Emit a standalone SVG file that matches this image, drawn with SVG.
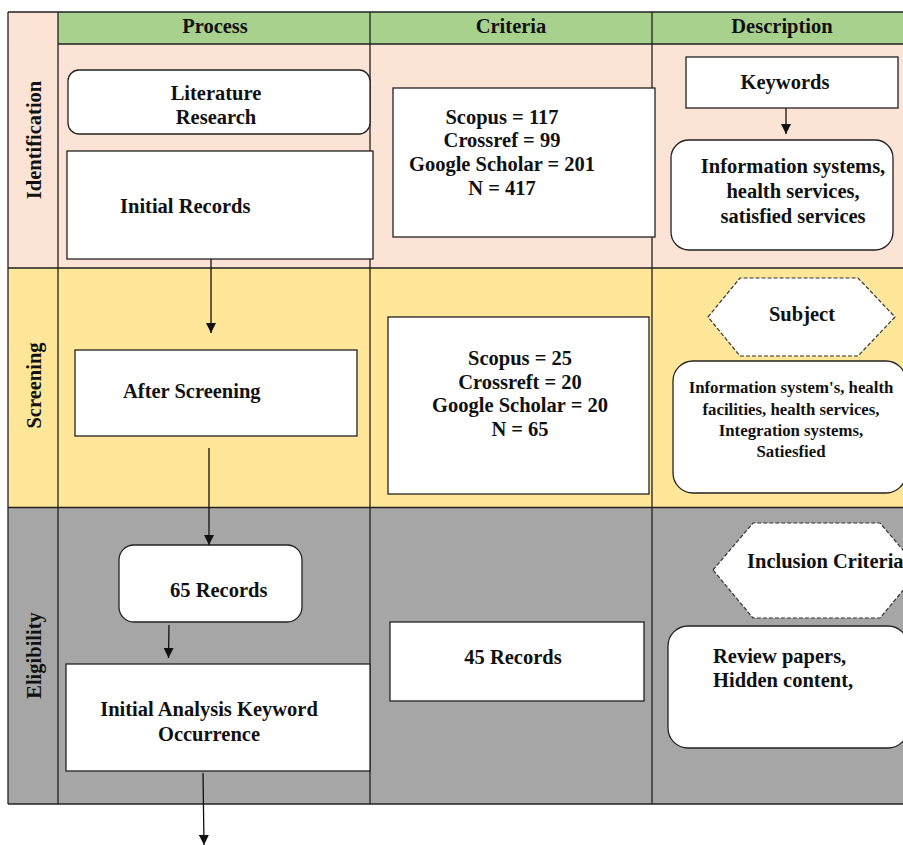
<svg xmlns="http://www.w3.org/2000/svg" width="903" height="845" viewBox="0 0 903 845">
  <style>
    .t { font-family: "Liberation Serif", "Times New Roman", serif; font-weight: bold; font-size: 20.5px; fill: #111; }
    .s { font-size: 16.8px; }
    .c { text-anchor: middle; }
    .grid { stroke: #222; stroke-width: 1.3; fill: none; }
    .box { fill: #fff; stroke: #222; stroke-width: 1.3; }
    .dash { fill: #fff; stroke: #333; stroke-width: 1.2; stroke-dasharray: 4 2; }
    .conn { stroke: #111; stroke-width: 1.3; fill: none; marker-end: url(#arr); }
  </style>
  <defs>
    <marker id="arr" viewBox="0 0 10 10" refX="10" refY="5" markerWidth="10" markerHeight="10" markerUnits="userSpaceOnUse" orient="auto">
      <path d="M0,0 L10,5 L0,10 Z" fill="#111"/>
    </marker>
  </defs>

  <!-- lane backgrounds -->
  <g id="lanes">
    <rect x="8" y="12" width="895" height="256" fill="#FBE3D6"/>
    <rect x="58" y="12" width="845" height="32" fill="#A9D18E"/>
    <rect x="8" y="268" width="895" height="239.5" fill="#FFE699"/>
    <rect x="8" y="507.5" width="895" height="296.5" fill="#A6A6A6"/>
    <path class="grid" d="M8,12 H903 M58,44 H903 M8,268 H903 M8,507.5 H903 M8,804 H903 M8,12 V804 M58,12 V804 M370,12 V804 M652,12 V804"/>
    <text class="t c" x="215" y="33">Process</text>
    <text class="t c" x="511" y="33">Criteria</text>
    <text class="t c" x="782" y="33">Description</text>
    <text class="t c" transform="translate(41,140) rotate(-90)">Identification</text>
    <text class="t c" transform="translate(41,385.5) rotate(-90)">Screening</text>
    <text class="t c" transform="translate(41,655.5) rotate(-90)">Eligibility</text>
  </g>

  <!-- Process column -->
  <g id="literature-research">
    <rect class="box" x="68" y="70" width="302" height="64" rx="11"/>
    <text class="t c" x="216" y="100">Literature</text>
    <text class="t c" x="216" y="124">Research</text>
  </g>
  <g id="initial-records">
    <rect class="box" x="67" y="151" width="306" height="108"/>
    <text class="t" x="120" y="213">Initial Records</text>
  </g>
  <g id="after-screening">
    <rect class="box" x="75" y="350" width="282" height="86"/>
    <text class="t" x="123" y="398">After Screening</text>
  </g>
  <g id="records-65">
    <rect class="box" x="119" y="545" width="183" height="77" rx="15"/>
    <text class="t" x="170" y="597">65 Records</text>
  </g>
  <g id="initial-analysis">
    <rect class="box" x="66" y="664" width="304" height="107"/>
    <text class="t c" x="209" y="716">Initial Analysis Keyword</text>
    <text class="t c" x="209" y="741">Occurrence</text>
  </g>

  <!-- Criteria column -->
  <g id="criteria-identification">
    <rect class="box" x="393" y="88" width="262" height="149"/>
    <text class="t c" x="502" y="124">Scopus = 117</text>
    <text class="t c" x="502" y="147">Crossref = 99</text>
    <text class="t c" x="502" y="171">Google Scholar = 201</text>
    <text class="t c" x="502" y="195">N = 417</text>
  </g>
  <g id="criteria-screening">
    <rect class="box" x="388" y="317" width="261" height="177"/>
    <text class="t c" x="520" y="365">Scopus = 25</text>
    <text class="t c" x="520" y="389">Crossreft = 20</text>
    <text class="t c" x="520" y="412">Google Scholar = 20</text>
    <text class="t c" x="520" y="436">N = 65</text>
  </g>
  <g id="records-45">
    <rect class="box" x="390" y="622" width="254" height="79"/>
    <text class="t c" x="513" y="664">45 Records</text>
  </g>

  <!-- Description column -->
  <g id="keywords">
    <rect class="box" x="686" y="57" width="212" height="51"/>
    <text class="t c" x="785" y="89">Keywords</text>
  </g>
  <g id="keyword-list">
    <rect class="box" x="671" y="140" width="222" height="110" rx="18"/>
    <text class="t c" x="793" y="173">Information systems,</text>
    <text class="t c" x="793" y="198">health services,</text>
    <text class="t c" x="793" y="223">satisfied services</text>
  </g>
  <g id="subject">
    <polygon class="dash" points="708,317 740,278 858,278 895,317 858,356 740,356"/>
    <text class="t c" x="802" y="321">Subject</text>
  </g>
  <g id="subject-list">
    <rect class="box" x="673" y="361" width="233" height="132" rx="20"/>
    <text class="t s c" x="791" y="393">Information system's, health</text>
    <text class="t s c" x="791" y="415">facilities, health services,</text>
    <text class="t s c" x="791" y="436">Integration systems,</text>
    <text class="t s c" x="791" y="457">Satiesfied</text>
  </g>
  <g id="inclusion-criteria">
    <polygon class="dash" points="713,570 753,523 880,523 920,570 880,618 753,618"/>
    <text class="t" x="747" y="568">Inclusion Criteria</text>
  </g>
  <g id="inclusion-list">
    <rect class="box" x="668" y="626" width="240" height="122" rx="20"/>
    <text class="t" x="713" y="663">Review papers,</text>
    <text class="t" x="713" y="687">Hidden content,</text>
  </g>

  <!-- connectors -->
  <g id="connectors">
    <line class="conn" x1="211" y1="259" x2="211" y2="333"/>
    <line class="conn" x1="209" y1="448" x2="209" y2="545"/>
    <line class="conn" x1="169" y1="625" x2="168.5" y2="658"/>
    <line class="conn" x1="786" y1="108" x2="786" y2="134"/>
    <line class="conn" x1="203" y1="773" x2="204" y2="845"/>
  </g>
</svg>
